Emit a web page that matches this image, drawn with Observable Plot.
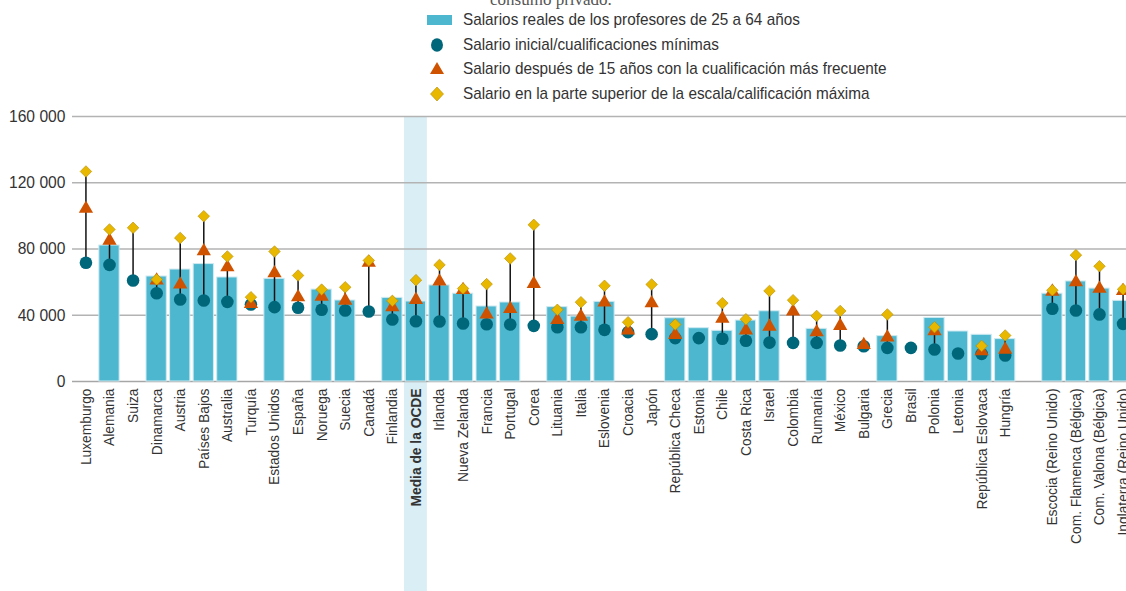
<!DOCTYPE html>
<html>
<head>
<meta charset="utf-8">
<script src="https://cdn.jsdelivr.net/npm/d3@7"></script>
<script src="https://cdn.jsdelivr.net/npm/@observablehq/plot@0.6"></script>
<style>
  html, body { margin: 0; padding: 0; background: #fff; }
  body { width: 1126px; height: 591px; overflow: hidden; position: relative; font-family: "Liberation Sans", Arial, sans-serif; }
  #top { position: absolute; left: 490px; top: -9px; font-family: "Liberation Serif", serif; font-size: 17px; color: #555; white-space: nowrap; line-height: 17px; }
  #legend { position: absolute; left: 424px; top: 8px; }
  .item { display: flex; align-items: center; height: 24.6px; font-size: 17px; color: #333; white-space: nowrap; }
  .item svg { width: 32px; height: 20px; margin-right: 7px; flex: none; }
  .item span { display: inline-block; transform: scaleX(0.9); transform-origin: left center; }
  #chart { position: absolute; left: 0; top: 100px; width: 1140px; }
  #chart svg { max-width: none !important; }
</style>
</head>
<body>
<div id="top">consumo privado.</div>
<div id="legend"></div>
<div id="chart"></div>
<script>
const categories = ["Luxemburgo","Alemania","Suiza","Dinamarca","Austria","Países Bajos","Australia","Turquía","Estados Unidos","España","Noruega","Suecia","Canadá","Finlandia","Media de la OCDE","Irlanda","Nueva Zelanda","Francia","Portugal","Corea","Lituania","Italia","Eslovenia","Croacia","Japón","República Checa","Estonia","Chile","Costa Rica","Israel","Colombia","Rumanía","México","Bulgaria","Grecia","Brasil","Polonia","Letonia","República Eslovaca","Hungría"," ","Escocia (Reino Unido)","Com. Flamenca (Bélgica)","Com. Valona (Bélgica)","Inglaterra (Reino Unido)"];
const highlight = ["Media de la OCDE"];
const salariosReales = [null,82100,null,63400,67600,70900,62800,null,62000,null,55500,48900,null,50500,48300,58000,53000,45300,47700,null,44900,39200,48100,null,null,38200,32200,30600,36800,42400,null,31800,null,null,27400,null,38400,30200,28200,25600,null,53000,60400,56100,48700];
const salarioInicial = [71700,70400,61000,53300,49500,48900,48100,46500,44900,44500,43300,42900,42300,37400,36400,36200,35000,34600,34400,33600,32800,32800,31200,29800,28600,26200,26200,25800,24600,23500,23300,23300,21700,21300,20300,20300,19300,16900,16700,15700,null,43900,42900,40500,34800];
const salario15 = [104300,85100,null,61000,58600,78700,69000,46900,65400,50900,51300,48900,71700,44900,49300,60400,55300,40500,43900,59000,37200,39200,47700,30800,47300,28200,null,38000,30800,33200,42300,29800,33600,22100,26600,null,30400,null,18300,19300,null,54300,60000,56000,54700];
const salarioMaximo = [126800,91800,92800,61600,86700,99800,75500,50900,78500,64000,55500,56900,73100,48700,61200,70400,56100,58800,74300,94600,43300,47900,57800,35800,58600,34400,null,47300,37600,54700,49100,39600,42600,null,40500,null,32800,null,21500,27800,null,55100,76300,69600,55700];
const yTicks = [0, 40000, 80000, 120000, 160000];
const legendLabels = ["Salarios reales de los profesores de 25 a 64 años","Salario inicial/cualificaciones mínimas","Salario después de 15 años con la cualificación más frecuente","Salario en la parte superior de la escala/calificación máxima"];

const C = {bar:"#4db7cf", barStroke:"#cfeaf1", circle:"#00677a", tri:"#cf5200", dia:"#e8b700", diaStroke:"#b58c00", band:"#d9eef5"};

const rows = categories.map((c,i) => ({c, bar: salariosReales[i], a: salarioInicial[i], b: salario15[i], m: salarioMaximo[i]}));
const ranges = rows.map(r => {
  const v = [r.a, r.b, r.m].filter(d => d != null);
  return {c: r.c, lo: d3.min(v), hi: d3.max(v), n: v.length};
}).filter(r => r.n >= 2);

const fmt = d => d3.format(",")(d).replace(/,/g, " ");
const normalCats = categories.filter(c => c.trim() !== "" && !highlight.includes(c));

const axisOpts = {tickRotate: -90, tickSize: 0, tickPadding: 7, fontSize: 15.5, fill: "#333", label: null};

const plot = Plot.plot({
  width: 1140,
  height: 491,
  marginLeft: 72,
  marginRight: 4,
  marginTop: 16,
  marginBottom: 210,
  style: {fontFamily: '"Liberation Sans", Arial, sans-serif', background: "transparent", overflow: "visible", maxWidth: "none"},
  x: {domain: categories, padding: 0.14, round: false, axis: null},
  y: {domain: [0, 160000], axis: null},
  marks: [
    Plot.barY(highlight, {x: d => d, y1: 160000, y2: -140000, fill: C.band, insetLeft: -1.3, insetRight: -1.3}),
    Plot.gridY(yTicks.filter(d => d > 0), {stroke: "#b3b3b3", strokeOpacity: 1, strokeWidth: 1.3}),
    Plot.ruleY([0], {stroke: "#a6a6a6", strokeWidth: 1.5}),
    Plot.barY(rows.filter(r => r.bar != null), {x: "c", y: "bar", fill: C.bar, stroke: C.barStroke, strokeWidth: 1}),
    Plot.ruleX(ranges, {x: "c", y1: "lo", y2: "hi", stroke: "#111", strokeWidth: 1.5}),
    Plot.dot(rows.filter(r => r.a != null), {x: "c", y: "a", r: 6.3, fill: C.circle, symbol: "circle"}),
    Plot.dot(rows.filter(r => r.b != null), {x: "c", y: "b", r: 5.3, fill: C.tri, symbol: "triangle"}),
    Plot.dot(rows.filter(r => r.m != null), {x: "c", y: "m", r: 5.2, fill: C.dia, stroke: C.diaStroke, strokeWidth: 0.6, symbol: "diamond2"}),
    Plot.axisY(yTicks, {tickSize: 0, tickPadding: 7, tickFormat: fmt, fontSize: 17, fill: "#333", label: null}),
    Plot.axisX(normalCats, axisOpts),
    Plot.axisX(highlight, {...axisOpts, fontWeight: "bold"})
  ]
});
plot.style.maxWidth = "none";
document.getElementById("chart").appendChild(plot);

// Condense tick label glyphs along their reading direction
plot.querySelectorAll('g[aria-label="x-axis tick label"] text').forEach(t => {
  t.setAttribute("transform", (t.getAttribute("transform") || "") + " scale(0.89,1)");
});
plot.querySelectorAll('g[aria-label="y-axis tick label"] text').forEach(t => {
  t.setAttribute("transform", (t.getAttribute("transform") || "") + " scale(0.92,1)");
});

// Legend
const leg = document.getElementById("legend");
const sym = [
  `<rect x="3" y="5" width="25" height="10" fill="${C.bar}"/>`,
  `<ellipse cx="13" cy="10" rx="6" ry="6.8" fill="${C.circle}"/>`,
  `<path d="${d3.symbol(d3.symbolTriangle, 85)()}" transform="translate(13,11)" fill="${C.tri}"/>`,
  `<path d="M13,3 L19.5,10 L13,17 L6.5,10 Z" fill="${C.dia}" stroke="${C.diaStroke}" stroke-width="0.6"/>`
];
legendLabels.forEach((t, i) => {
  const d = document.createElement("div");
  d.className = "item";
  d.innerHTML = `<svg viewBox="0 0 32 20">${sym[i]}</svg><span>${t}</span>`;
  leg.appendChild(d);
});
</script>
</body>
</html>
